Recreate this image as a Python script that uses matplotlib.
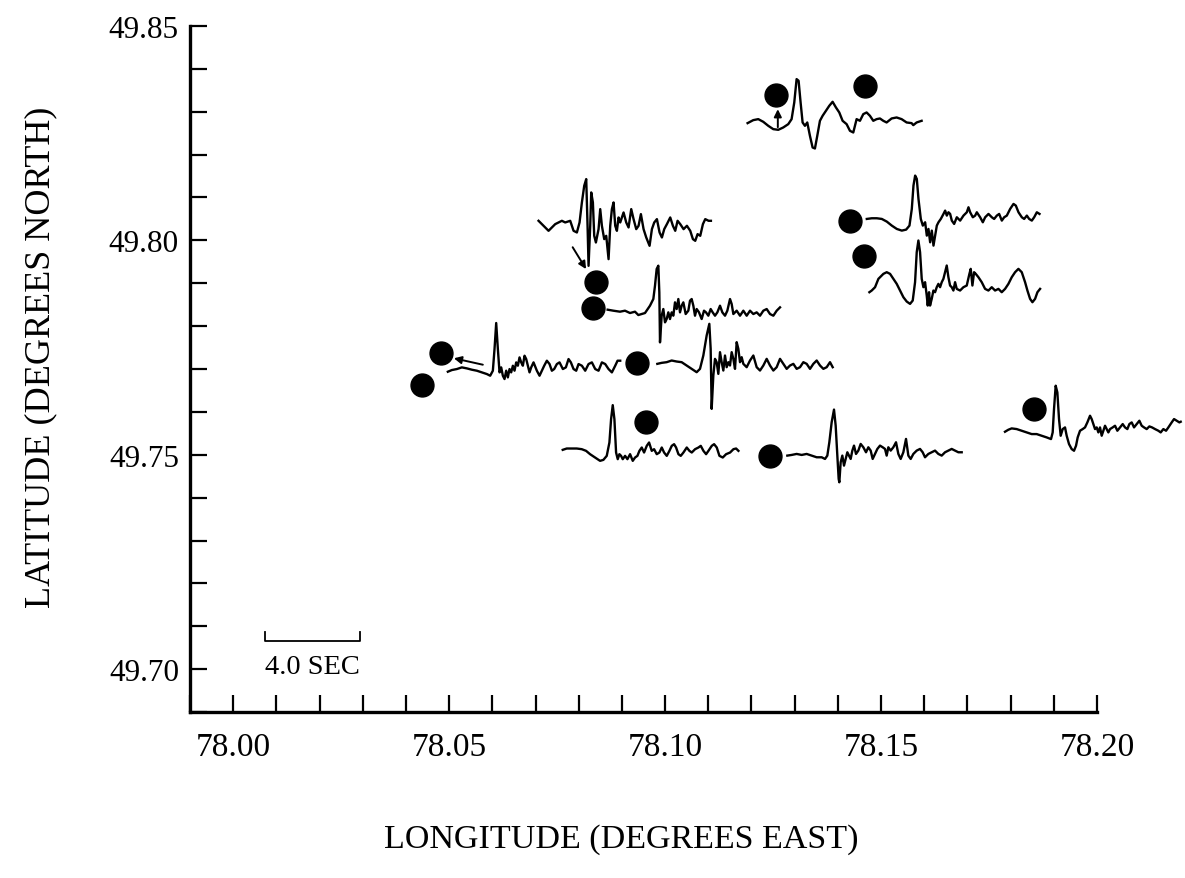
import matplotlib
matplotlib.use("Agg")
import matplotlib.pyplot as plt
from matplotlib.ticker import MultipleLocator, FormatStrFormatter
import numpy as np

# Event epicentres (degrees)
event_lon = [78.1256, 78.1463, 78.1427, 78.1461, 78.0840, 78.0832,
             78.0481, 78.0436, 78.0936, 78.0955, 78.1244, 78.1855]
event_lat = [49.8340, 49.8359, 49.8046, 49.7964, 49.7904, 49.7842,
             49.7737, 49.7663, 49.7714, 49.7577, 49.7496, 49.7607]

# Digitised seismograms: sample index and amplitude (counts)
rec_a_i = [0, 17, 32, 47, 62, 77, 92, 107, 122, 132, 140, 147, 153, 159, 165, 172, 179, 187, 195, 202,
           209, 217, 225, 235, 245, 255, 265, 275, 285, 297, 307, 317, 327, 337, 347, 357, 367, 377, 387,
           397, 407, 417, 432, 447, 462, 477, 492, 497, 507, 522]
rec_a_v = [-2, 7, 10, 2, -10, -20, -22, -15, -5, 10, 60, 130, 125, 60, 0, -10, 0, -40, -75, -78,
           -40, 5, 20, 35, 50, 62, 45, 30, 5, -5, -25, -30, 10, 5, 25, 30, 20, 5, 10,
           12, 5, 0, 12, 15, 10, 0, -2, -8, 0, 5]

rec_b_i = [0, 10, 20, 30, 40, 50, 60, 70, 80, 95, 105, 115, 123, 130, 137, 143, 147, 150, 155, 158,
           163, 167, 172, 180, 185, 190, 197, 203, 210, 215, 220, 225, 230, 235, 240, 245, 255, 263, 270,
           278, 285, 293, 300, 307, 315, 323, 333, 340, 347, 355, 363, 370, 377, 385, 395, 403, 410, 417,
           425, 435, 445, 455, 463, 470, 477, 485, 493, 500, 510, 517]
rec_b_v = [15, 5, -5, -15, -5, 5, 10, 15, 10, 15, -15, -20, 10, 70, 120, 140, 0, -120, 0, 100,
           70, -30, -50, -10, 50, 0, -40, -30, -100, 0, 50, 70, 0, -15, 25, 10, 40, 10, -5,
           50, 20, -10, 0, 35, -10, -35, -60, -10, 10, 20, -20, -35, -10, 5, 25, 0, -15, 15,
           5, -10, 0, -15, -40, -45, -25, -30, 5, 20, 15, 15]

rec_c_i = [0, 17, 37, 52, 67, 82, 92, 102, 112, 127, 137, 142, 147, 152, 155, 157, 162, 167, 172, 177,
           182, 187, 192, 197, 202, 207, 212, 217, 222, 227, 234, 242, 247, 252, 257, 262, 267, 274, 282,
           289, 295, 302, 309, 315, 322, 329, 337, 344, 352, 359, 367, 372, 377, 387, 397, 407, 417, 427,
           437, 447, 457, 467, 477, 487, 497, 507, 517]
rec_c_v = [3, 0, -3, 0, -7, -3, -13, -10, -7, 15, 35, 75, 125, 135, 55, -95, -15, 5, -35, -25,
           -5, -25, -5, -15, 25, 5, 35, -5, 15, 25, -10, 0, 30, 35, 15, -15, 5, -5, -25,
           0, -5, -15, 5, -5, -15, -5, 15, -5, -15, 0, 35, 20, -10, 0, -15, 0, -15, 0,
           -10, -5, -15, 0, 5, -10, -15, 0, 10]

rec_d_i = [0, 15, 30, 45, 60, 75, 90, 105, 118, 128, 135, 140, 145, 150, 155, 162, 168, 175, 180, 185,
           190, 195, 200, 205, 210, 215, 222, 230, 235, 240, 245, 250, 255, 262, 270, 280, 290, 300, 305,
           310, 318, 325, 330, 340, 348, 355, 365, 375, 382, 390, 397, 405, 412, 420, 430, 440, 447, 455,
           465, 472, 480, 487, 495, 502, 510, 518]
rec_d_v = [0, 2, 2, 0, -8, -20, -30, -35, -32, -20, 30, 100, 130, 120, 60, 0, -20, -10, -50, -30,
           -70, -35, -80, -50, -20, -10, 0, 15, 25, 10, 20, 15, -5, -15, 5, -5, 10, 20, 35,
           20, 5, 10, 20, 5, -10, 5, 15, 5, 0, 10, 15, -5, 5, 10, 30, 45, 40, 20,
           5, 0, 10, 0, -5, 5, 20, 15]

rec_e_i = [0, 7, 17, 27, 42, 52, 62, 72, 82, 92, 102, 112, 122, 130, 137, 142, 147, 152, 157, 162,
           167, 172, 175, 179, 182, 187, 192, 197, 202, 207, 212, 217, 222, 227, 232, 237, 242, 247, 252,
           257, 262, 272, 282, 292, 300, 304, 309, 314, 319, 327, 337, 347, 357, 367, 377, 387, 397, 407,
           417, 427, 437, 447, 457, 467, 474, 482, 489, 497, 504, 512]
rec_e_v = [-5, 0, 10, 35, 50, 55, 50, 35, 20, 0, -20, -33, -40, -30, 25, 115, 150, 115, 35, 10,
           25, -15, -45, -5, -45, -25, 0, -5, 10, 20, 10, 25, 35, 55, 75, 40, 15, 10, 0,
           25, 5, 0, 10, 15, 50, 65, 15, 55, 50, 40, 25, 5, 0, 10, 0, 5, -5, 5,
           20, 40, 55, 65, 55, 25, 0, -25, -35, -25, -5, 5]

rec_f_i = [0, 12, 27, 42, 57, 72, 87, 102, 117, 127, 135, 140, 145, 150, 155, 160, 165, 170, 175, 180,
           185, 190, 195, 200, 205, 210, 215, 220, 225, 230, 235, 240, 245, 250, 257, 267, 275, 282, 289,
           297, 305, 312, 319, 327, 335, 345, 354, 362, 369, 377, 385, 392, 402, 412, 422, 432, 442, 452,
           462, 472, 482, 492, 502, 509, 517]
rec_f_v = [-3, 2, 5, 10, 7, 3, 0, -5, -10, -15, 0, 65, 143, 65, -5, 10, -15, -25, 0, -20,
           5, -5, 15, 0, 25, 15, 40, 25, 15, 45, 35, 15, -5, 10, 25, 0, -15, 0, 15,
           30, 20, 0, 5, 20, 25, 5, 10, 35, 25, 5, 0, 20, 15, 0, 20, 25, 5, 0,
           25, 20, 5, -5, 15, 30, 30]

rec_g_i = [0, 13, 28, 43, 58, 73, 88, 103, 118, 128, 138, 148, 156, 160, 163, 168, 173, 178, 183, 188,
           193, 198, 203, 208, 213, 218, 223, 228, 233, 238, 243, 248, 253, 258, 268, 278, 288, 298, 308,
           318, 328, 338, 348, 358, 368, 378, 388, 398, 408, 418, 428, 438, 448, 458, 468, 478, 488, 498,
           508, 518, 526]
rec_g_v = [0, 3, 5, 10, 7, 5, -5, -15, -25, -15, 25, 85, 120, 45, -135, -35, 15, 5, -30, 35,
           5, -20, 25, -10, 5, -5, 35, 15, -15, 65, 45, 5, 20, 0, -10, 10, 25, -10, -20,
           -5, 15, -5, -20, -10, 15, 0, -15, -5, 0, -15, -10, 5, 0, -15, 0, 10, -5, -15,
           -10, 5, -10]

rec_h_i = [0, 12, 27, 42, 57, 70, 82, 97, 112, 122, 132, 140, 145, 150, 155, 160, 165, 170, 175, 180,
           187, 194, 202, 210, 217, 224, 230, 237, 244, 252, 259, 267, 274, 282, 290, 297, 304, 312, 320,
           327, 334, 340, 347, 354, 362, 372, 380, 387, 397, 407, 414, 422, 430, 437, 447, 454, 462, 470,
           480, 490, 502, 512, 520, 527]
rec_h_v = [-2, 2, 2, 2, 0, -5, -15, -25, -35, -32, -20, 20, 90, 132, 90, -10, -30, -15, -20, -30,
           -20, -30, -15, -35, -25, -20, -5, 5, -10, 10, 20, -5, 0, -15, -10, 5, -10, -20, -5,
           10, 15, 5, -15, -20, -10, 5, -5, -10, 0, 5, 10, -5, -15, -5, 10, 15, 5, -20,
           -25, -15, -10, 0, 2, -5]

rec_i_i = [0, 13, 28, 43, 58, 73, 88, 103, 113, 120, 126, 133, 140, 145, 150, 154, 156, 160, 165, 170,
           175, 180, 185, 190, 195, 200, 206, 213, 220, 228, 236, 243, 250, 256, 263, 270, 278, 286, 293,
           298, 303, 310, 318, 326, 333, 340, 348, 356, 363, 370, 378, 388, 398, 406, 413, 423, 433, 443,
           453, 463, 473, 483, 493, 503, 513, 523]
rec_i_v = [0, 2, 5, 2, 5, 0, -5, -5, -10, 0, 40, 100, 138, 90, 0, -70, -80, -20, 0, -30,
           -10, 10, 0, -10, 15, 30, 5, 15, 35, 25, 10, 25, 15, -10, 5, 20, 30, 25, 20,
           0, 25, 15, 25, 40, 5, -10, 10, 50, 0, -10, 5, 15, 20, 10, -5, 5, 10, 15,
           5, 0, 10, 15, 20, 15, 10, 10]

rec_j_i = [0, 10, 20, 35, 50, 65, 80, 95, 110, 125, 138, 143, 147, 152, 157, 162, 167, 173, 180, 185,
           192, 200, 207, 213, 218, 225, 233, 240, 247, 255, 260, 265, 270, 275, 280, 285, 290, 295, 300,
           305, 310, 315, 323, 330, 337, 345, 353, 360, 367, 373, 380, 387, 395, 403, 410, 417, 425, 433,
           441, 450, 460, 467, 475, 483, 490, 500, 507, 515, 523, 527]
rec_j_v = [-3, 3, 7, 5, 0, -5, -10, -10, -15, -20, -25, -5, 65, 135, 115, 35, -15, 5, 10, -15,
           -40, -55, -60, -45, -20, 0, 5, 10, 25, 45, 35, 20, 5, 10, -5, 10, -15, 0, 15,
           5, -5, 5, 10, 15, 0, 10, 20, 10, 5, 20, 25, 10, 20, 30, 15, 10, 5, 13,
           10, 5, 0, -5, 5, 0, 10, 25, 35, 30, 25, 27]

records = [(rec_a_i, rec_a_v), (rec_b_i, rec_b_v), (rec_c_i, rec_c_v), (rec_d_i, rec_d_v),
           (rec_e_i, rec_e_v), (rec_f_i, rec_f_v), (rec_g_i, rec_g_v), (rec_h_i, rec_h_v),
           (rec_i_i, rec_i_v), (rec_j_i, rec_j_v)]

# Where each record starts (lon) and its zero line (lat)
record_lon = [78.1191, 78.0707, 78.0867, 78.1467, 78.1473, 78.0497, 78.0982, 78.0763, 78.1283, 78.1787]
record_lat = [49.8275, 49.8034, 49.7836, 49.8050, 49.7883, 49.7696, 49.7712, 49.7513, 49.7498, 49.7556]

# Arrows linking records to their events: (tail lon, tail lat, head lon, head lat)
arrows = [(78.1261, 49.8264, 78.1261, 49.8306),
          (78.0786, 49.7984, 78.0817, 49.7933),
          (78.0578, 49.7710, 78.0511, 49.7725)]

SAMPLE_RATE = 71.25        # samples per second
DEG_PER_SEC = 0.0055       # time axis of the records, in degrees of longitude
DEG_PER_COUNT = 7.78e-5    # record amplitude, in degrees of latitude
SCALE_SEC = 4.0
scale_lon, scale_lat = 78.0074, 49.7066

plt.rcParams['font.family'] = ['Liberation Serif', 'DejaVu Serif']

fig = plt.figure(figsize=(11.85, 8.79), dpi=100)
ax = fig.add_axes([190 / 1185, 166 / 879, 907 / 1185, 686 / 879])
ax.set_xlim(77.99, 78.20)
ax.set_ylim(49.69, 49.85)

for side in ('top', 'right'):
    ax.spines[side].set_visible(False)
for side in ('left', 'bottom'):
    ax.spines[side].set_linewidth(2.4)

ax.xaxis.set_major_locator(MultipleLocator(0.05))
ax.xaxis.set_minor_locator(MultipleLocator(0.01))
ax.yaxis.set_major_locator(MultipleLocator(0.05))
ax.yaxis.set_minor_locator(MultipleLocator(0.01))
ax.xaxis.set_major_formatter(FormatStrFormatter('%.2f'))
ax.yaxis.set_major_formatter(FormatStrFormatter('%.2f'))
ax.tick_params(which='both', direction='in', length=12, width=1.6, color='black')
ax.tick_params(axis='x', which='major', labelsize=24, pad=14)
ax.tick_params(axis='y', which='major', labelsize=22.5, pad=8)

ax.text(0.475, -0.185, 'LONGITUDE (DEGREES EAST)', transform=ax.transAxes,
        ha='center', va='center', fontsize=24.5)
ax.text(-0.165, 0.519, 'LATITUDE (DEGREES NORTH)', transform=ax.transAxes,
        ha='center', va='center', rotation=90, fontsize=26)

# Seismograms
for (idx, amp), lon0, lat0 in zip(records, record_lon, record_lat):
    t = np.asarray(idx) / SAMPLE_RATE
    ax.plot(lon0 + t * DEG_PER_SEC, lat0 + np.asarray(amp) * DEG_PER_COUNT,
            color='black', lw=1.7, clip_on=False, solid_joinstyle='round')

# Epicentres
ax.plot(event_lon, event_lat, 'o', ms=16.5, color='black', clip_on=False, zorder=3)

for tx, ty, hx, hy in arrows:
    ax.annotate('', xy=(hx, hy), xytext=(tx, ty),
                arrowprops=dict(arrowstyle='-|>', color='black', lw=1.4,
                                mutation_scale=11, shrinkA=0, shrinkB=0))

# Time scale bar
bar_len = SCALE_SEC * DEG_PER_SEC
tick_h = 0.002
ax.plot([scale_lon, scale_lon, scale_lon + bar_len, scale_lon + bar_len],
        [scale_lat + tick_h, scale_lat, scale_lat, scale_lat + tick_h],
        color='black', lw=1.3)
ax.text(scale_lon, scale_lat - 0.006, f'{SCALE_SEC:.1f} SEC', ha='left', va='center', fontsize=20.5)

fig.savefig('out.png', dpi=100)
